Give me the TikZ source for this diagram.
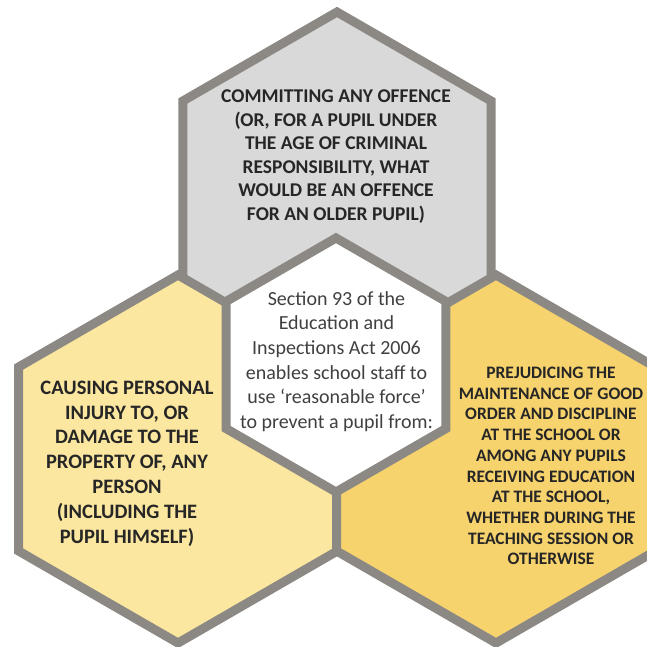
\documentclass[tikz,border=0pt]{standalone}
\usepackage{fontspec}
\setmainfont{Carlito}
\usetikzlibrary{shapes.geometric, positioning, calc}
\definecolor{hexline}{HTML}{8C8984}
\definecolor{topgray}{HTML}{D9D9D9}
\definecolor{lightgold}{HTML}{FCE7A0}
\definecolor{deepgold}{HTML}{F7D36E}
\definecolor{captext}{HTML}{262626}
\definecolor{bodytext}{HTML}{404040}
\tikzset{
	hexcell/.style={regular polygon, regular polygon sides=6, shape border rotate=90, draw=hexline, line width=9pt, inner sep=0pt},
	captxt/.style={align=center, text=captext}
}

\begin{document}
\begin{tikzpicture}[x=1pt, y=-1pt]
		\useasboundingbox[fill=white] (0,0) rectangle (647,646);
		
		% --- Three outer cells ---
		\node[hexcell, fill=topgray, minimum size=356pt] (offence) at (337,190) {};
		\node[hexcell, fill=lightgold, minimum size=368pt] (injury) at (178,459) {};
		\node[hexcell, fill=deepgold, minimum size=368pt] (discipline) at (496,459) {};
		
		% --- Central cell ---
		\node[hexcell, fill=white, minimum size=254pt] (section) at (336,365) {};
		
		% --- Texts ---
		\node[captxt, font=\fontsize{19.5}{23.5}\selectfont\bfseries] (offence_text) at ($(offence)+(-1,-33.5)$)
			{COMMITTING ANY OFFENCE\\(OR, FOR A PUPIL UNDER\\THE AGE OF CRIMINAL\\RESPONSIBILITY, WHAT\\WOULD BE AN OFFENCE\\FOR AN OLDER PUPIL)};
		\node[captxt, font=\fontsize{20.5}{24.8}\selectfont\bfseries] (injury_text) at ($(injury)+(-51,4.5)$)
			{CAUSING PERSONAL\\INJURY TO, OR\\DAMAGE TO THE\\PROPERTY OF, ANY\\PERSON\\(INCLUDING THE\\PUPIL HIMSELF)};
		\node[captxt, font=\fontsize{17.5}{20.7}\selectfont\bfseries] (discipline_text) at ($(discipline)+(55,7)$)
			{PREJUDICING THE\\MAINTENANCE OF GOOD\\ORDER AND DISCIPLINE\\AT THE SCHOOL OR\\AMONG ANY PUPILS\\RECEIVING EDUCATION\\AT THE SCHOOL,\\WHETHER DURING THE\\TEACHING SESSION OR\\OTHERWISE};
		\node[align=center, text=bodytext, font=\fontsize{20}{24.6}\selectfont] (section_text) at ($(section)+(0.5,-3.5)$)
			{Section 93 of the\\Education and\\Inspections Act 2006\\enables school staff to\\use ‘reasonable force’\\to prevent a pupil from:};
		
	\end{tikzpicture}
\end{document}
